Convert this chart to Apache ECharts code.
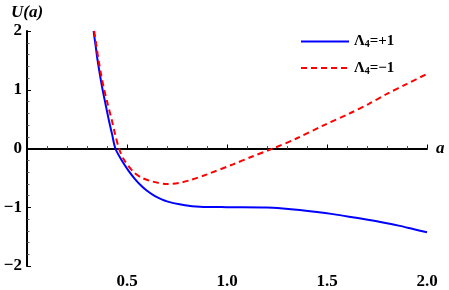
<!DOCTYPE html>
<html>
<head>
<meta charset="utf-8">
<script src="https://cdn.jsdelivr.net/npm/echarts@6/dist/echarts.min.js"></script>
<style>
html,body{margin:0;padding:0;background:#fff;}
#c{width:449px;height:290px;}
</style>
</head>
<body>
<div id="c"></div>
<script>
// Λ4 = +1 (blue, solid)
const aPlus = [0.333,0.343,0.353,0.365,0.378,0.393,0.41,0.425,0.442,0.475,0.508,0.54,0.57,0.60,0.64,0.70,0.79,0.864,1.0,1.197,1.28,1.364,1.45,1.53,1.61,1.697,1.78,1.864,1.93,2.0];
const uPlus = [2.0,1.75,1.5,1.25,1.0,0.75,0.47,0.25,0.0,-0.21,-0.38,-0.52,-0.63,-0.72,-0.81,-0.90,-0.965,-0.99,-0.998,-1.003,-1.02,-1.046,-1.08,-1.117,-1.16,-1.21,-1.26,-1.317,-1.37,-1.426];
// Λ4 = −1 (red, dashed)
const aMinus = [0.336,0.347,0.358,0.371,0.386,0.404,0.425,0.44,0.46,0.483,0.533,0.575,0.625,0.70,0.76,0.815,0.90,1.03,1.12,1.23,1.347,1.48,1.615,1.71,1.80,1.90,2.0];
const uMinus = [2.0,1.75,1.5,1.25,1.0,0.75,0.47,0.25,0.0,-0.18,-0.40,-0.50,-0.56,-0.605,-0.585,-0.54,-0.44,-0.27,-0.145,0.0,0.17,0.39,0.60,0.76,0.93,1.10,1.27];
const seriesNames = ['Λ4=+1','Λ4=−1'];
const xTicks = [0.5,1.0,1.5,2.0];
const yTicks = [-2,-1,0,1,2];

const zip = (xs, ys) => xs.map((x, i) => [x, ys[i]]);
const FONT = '"Liberation Serif", "DejaVu Serif", serif';

const chart = echarts.init(document.getElementById('c'), null, {renderer: 'canvas'});
chart.setOption({
  animation: false,
  backgroundColor: '#fff',
  grid: {left: 27, right: 22, top: 31, bottom: 13, containLabel: false},
  legend: {
    orient: 'vertical',
    left: 295, top: 29,
    itemWidth: 48, itemHeight: 14, itemGap: 11,
    data: seriesNames,
    itemStyle: {opacity: 0},
    formatter: function (name) {
      return '{b|Λ}{s|4}{b|' + name.slice(2) + '}';
    },
    textStyle: {
      fontFamily: FONT, color: '#000',
      rich: {
        b: {fontFamily: FONT, fontSize: 15, fontWeight: 'bold', color: '#000'},
        s: {fontFamily: FONT, fontSize: 10, fontWeight: 'bold', color: '#000', padding: [6, 0, 0, 0]}
      }
    }
  },
  xAxis: {
    type: 'value', min: 0, max: 2, interval: 0.5,
    name: 'a', nameLocation: 'end', nameGap: 9,
    nameTextStyle: {fontFamily: FONT, fontSize: 17, fontWeight: 'bold', fontStyle: 'italic', color: '#000', padding: [0,0,6,0]},
    axisLine: {onZero: true, lineStyle: {color: '#000', width: 2}},
    axisTick: {show: true, inside: true, length: 4, lineStyle: {color: '#000', width: 1}},
    minorTick: {show: true, splitNumber: 5, length: 2.5, lineStyle: {color: '#555', width: 1}},
    splitLine: {show: false},
    axisLabel: {
      fontFamily: FONT, fontSize: 17, fontWeight: 'bold', color: '#000', margin: 7,
      formatter: v => xTicks.some(t => Math.abs(t - v) < 1e-9) ? v.toFixed(1) : ''
    }
  },
  yAxis: {
    type: 'value', min: -2, max: 2, interval: 1,
    name: 'U(a)', nameLocation: 'end', nameGap: 10,
    nameTextStyle: {fontFamily: FONT, fontSize: 17, fontWeight: 'bold', fontStyle: 'italic', color: '#000', align: 'center'},
    axisLine: {show: true, onZero: false, lineStyle: {color: '#000', width: 2}},
    axisTick: {show: true, inside: true, length: 4, lineStyle: {color: '#000', width: 1}},
    minorTick: {show: true, splitNumber: 5, length: 2.5, lineStyle: {color: '#555', width: 1}},
    splitLine: {show: false},
    axisLabel: {
      fontFamily: FONT, fontSize: 17, fontWeight: 'bold', color: '#000', margin: 5,
      formatter: v => yTicks.includes(v) ? String(v).replace('-', '−') : ''
    }
  },
  series: [
    {
      name: seriesNames[0], type: 'line', data: zip(aPlus, uPlus),
      smooth: 0.3, showSymbol: false, symbol: 'none',
      lineStyle: {color: '#0000ff', width: 2}, itemStyle: {color: '#0000ff'}, z: 3
    },
    {
      name: seriesNames[1], type: 'line', data: zip(aMinus, uMinus),
      smooth: 0.3, showSymbol: false, symbol: 'none',
      lineStyle: {color: '#ff0000', width: 2, type: [6, 4]}, itemStyle: {color: '#ff0000'}, z: 4
    }
  ]
});
</script>
</body>
</html>
